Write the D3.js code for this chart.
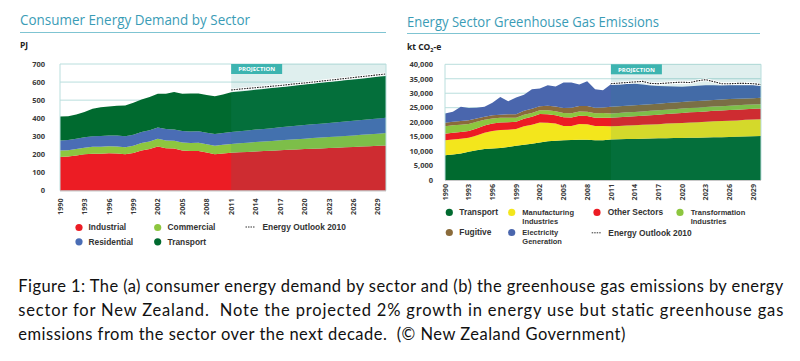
<!DOCTYPE html>
<html><head><meta charset="utf-8">
<script src="https://cdn.jsdelivr.net/npm/d3@7"></script>
<style>body{margin:0;background:#fff}svg{display:block}</style>
</head><body><svg id="c" width="800" height="361"></svg>
<script>
// ---------- shared ----------
const years = [1990,1991,1992,1993,1994,1995,1996,1997,1998,1999,2000,2001,2002,2003,2004,2005,2006,2007,2008,2009,2010,
               2011,2012,2013,2014,2015,2016,2017,2018,2019,2020,2021,2022,2023,2024,2025,2026,2027,2028,2029,2030];
const xTickYears = [1990,1993,1996,1999,2002,2005,2008,2011,2014,2017,2020,2023,2026,2029];
const projectionStart = 2011;
const outlookYears = [2011,2012,2013,2014,2015,2016,2017,2018,2019,2020,2021,2022,2023,2024,2025,2026,2027,2028,2029,2030];

// ---------- (a) Consumer Energy Demand by Sector (PJ) ----------
const leftKeys = ["Industrial","Commercial","Residential","Transport"];
const industrial  = [186,188,194,200,204,204,206,205,200,208,222,230,244,234,232,222,218,219,210,200,205,
                     209,211,213,216,218,220,223,225,227,229,231,233,235,237,239,241,243,245,247,249];
const commercial  = [35,35,36,37,38,38,39,39,40,40,41,41,42,43,43,44,45,45,46,47,48,
                     49,50,51,52,53,54,55,56,57,58,59,60,61,62,63,64,65,66,67,69];
const residential = [55,56,57,58,58,59,59,60,60,61,61,62,62,63,63,63,64,64,64,65,65,
                     66,67,68,69,70,71,72,73,74,75,76,77,78,79,80,81,82,83,84,85];
const transport   = [133,132,133,140,152,160,161,165,171,177,180,184,187,195,207,206,210,209,208,210,213,
                     219,220,220,220,221,222,222,222,223,224,225,226,226,227,228,228,229,230,231,231];
const leftOutlook = [556,561,565,569,573,577,581,586,591,595,600,605,610,615,620,625,630,635,640,645];
const leftYTicks = [0,100,200,300,400,500,600,700];
const leftColors = {Industrial:"#ec1c24",Commercial:"#8dc63f",Residential:"#4a6db5",Transport:"#006a2f"};

// ---------- (b) Energy Sector Greenhouse Gas Emissions (kt CO2-e) ----------
const rightKeys = ["Transport","Manufacturing Industries","Other Sectors","Transformation Industries","Fugitive","Electricity Generation"];
const ghgTransport      = [8600,8800,9200,9800,10300,10700,10900,11100,11400,11800,12200,12500,13000,13400,13600,13700,13800,13900,13900,13700,13700,
                           14000,14100,14150,14200,14300,14350,14400,14450,14500,14550,14600,14650,14700,14750,14800,14900,14950,15000,15100,15200];
const ghgManufacturing  = [5100,5200,5100,4800,5100,5600,6000,6200,6000,5800,6400,6600,6900,6400,5900,5000,4900,5500,5400,5000,5000,
                           4600,4600,4650,4700,4800,4850,4900,5050,5100,5150,5300,5350,5400,5550,5600,5600,5650,5800,5800,5800];
const ghgOther          = [2300,2300,2300,2300,2400,2500,2600,2600,2600,2500,2600,2800,2900,2900,2900,3000,2900,2800,2800,2800,2800,
                           2900,3000,3100,3100,3100,3200,3300,3300,3400,3500,3500,3500,3600,3600,3600,3700,3700,3700,3700,3700];
const ghgTransformation = [2600,2600,2500,2500,2300,2000,1800,1600,1500,1400,1400,1300,1300,1400,1400,1500,1500,1500,1500,1600,1700,
                           1500,1500,1500,1500,1500,1500,1500,1500,1500,1500,1500,1500,1500,1500,1500,1500,1500,1500,1500,1500];
const ghgFugitive       = [1200,1200,1300,1300,1200,1100,1100,1100,1200,1200,1300,1400,1400,1600,1600,1700,1900,1900,2000,1900,1900,
                           2300,2300,2300,2300,2300,2300,2300,2300,2300,2300,2300,2300,2300,2300,2300,2300,2300,2200,2200,2200];
const ghgElectricity    = [3200,3500,4900,4200,3700,3400,4300,6100,4500,5800,5600,6800,6100,7100,6900,8800,8700,7400,8500,6400,5900,
                           7800,7500,7500,7500,7000,6500,6100,5800,5500,5200,5200,5300,5300,5100,4900,4800,4700,4600,4500,4300];
const rightOutlook = [33300,33500,33700,33900,34100,33400,33300,33500,33700,33800,33700,34300,34700,34000,33300,33300,33400,33400,33300,33000];
const rightYTicks = [0,5000,10000,15000,20000,25000,30000,35000,40000];
const rightColors = {"Transport":"#006a2f","Manufacturing Industries":"#f3e61c","Other Sectors":"#ec1c24",
                     "Transformation Industries":"#8dc63f","Fugitive":"#8a6b3b","Electricity Generation":"#4a66ad"};

// ---------- drawing ----------
const svg = d3.select("#c");
const FONT = "'Open Sans', 'DejaVu Sans', sans-serif";
const LEGEND_FONT = "'Liberation Sans', Arial, sans-serif";
const gridColor = "#b9dedd";
const labelColor = "#3a3a3a";

function drawChart(o) {
  const g = svg.append("g");
  const x = d3.scaleLinear().domain([1990, 2030]).range([o.x0, o.x1]);
  const y = d3.scaleLinear().domain([0, o.yMax]).range([o.yBottom, o.yTop]);

  g.append("text").attr("x", o.titleX).attr("y", o.titleY).text(o.title)
    .attr("font-family", FONT).attr("font-size", 15).attr("fill", "#3a9cb6")
    .attr("textLength", o.titleLen).attr("lengthAdjust", "spacingAndGlyphs");
  g.append("line").attr("x1", o.titleX).attr("x2", o.ruleX1).attr("y1", o.ruleY).attr("y2", o.ruleY)
    .attr("stroke", "#7fc4d2").attr("stroke-width", 1.2);

  const u = g.append("text").attr("x", o.titleX).attr("y", o.unitY)
    .attr("font-family", FONT).attr("font-size", 8.5).attr("font-weight", 700).attr("fill", "#222");
  o.unit(u);

  g.append("g").selectAll("line").data(o.yTicks).join("line")
    .attr("x1", o.x0).attr("x2", o.x1).attr("y1", d => y(d)).attr("y2", d => y(d))
    .attr("stroke", gridColor).attr("stroke-width", 1);

  const series = d3.stack().keys(o.keys)(o.rows);
  const area = d3.area().x(d => x(d.data.year)).y0(d => y(d[0])).y1(d => y(d[1]));
  g.append("g").selectAll("path").data(series).join("path")
    .attr("d", area).attr("fill", d => o.colors[d.key]);

  g.append("rect").attr("x", x(projectionStart)).attr("y", o.yTop)
    .attr("width", x(2030) - x(projectionStart)).attr("height", o.yBottom - o.yTop)
    .attr("fill", "#1d8c88").attr("opacity", 0.14);

  const line = d3.line().x(d => x(d.year)).y(d => y(d.v));
  const od = outlookYears.map((yr, i) => ({year: yr, v: o.outlook[i]}));
  g.append("path").datum(od).attr("d", line).attr("fill", "none").attr("stroke", "#ffffff").attr("stroke-width", 2.8);
  g.append("path").datum(od).attr("d", line).attr("fill", "none").attr("stroke", "#222")
    .attr("stroke-width", 1.1).attr("stroke-dasharray", "1.6,1");

  g.append("line").attr("x1", o.x0).attr("x2", o.x0).attr("y1", o.yTop).attr("y2", o.yBottom).attr("stroke", gridColor);
  g.append("line").attr("x1", o.x1).attr("x2", o.x1).attr("y1", o.yTop).attr("y2", o.yBottom).attr("stroke", gridColor);
  g.append("line").attr("x1", o.x0).attr("x2", o.x1).attr("y1", o.yBottom + 0.5).attr("y2", o.yBottom + 0.5).attr("stroke", "#c8c8c8");

  g.append("rect").attr("x", x(projectionStart)).attr("y", o.yTop).attr("width", 51).attr("height", 10).attr("fill", "#3db4b0");
  g.append("text").attr("x", x(projectionStart) + 25.5).attr("y", o.yTop + 7.3).attr("text-anchor", "middle")
    .text("PROJECTION").attr("font-family", FONT).attr("font-size", 6).attr("font-weight", 700).attr("fill", "#fff");

  g.append("g").selectAll("text").data(o.yTicks).join("text")
    .attr("x", o.yLabelX).attr("y", d => y(d) + 2.8).attr("text-anchor", "end")
    .text(d => o.fmt(d)).attr("font-family", FONT).attr("font-size", 7.5).attr("font-weight", 700).attr("fill", labelColor);

  g.append("g").selectAll("text").data(xTickYears).join("text")
    .attr("transform", d => `translate(${x(d) + 2.6},${o.xLabelY}) rotate(-90)`)
    .attr("text-anchor", "end").text(d => d)
    .attr("font-family", FONT).attr("font-size", 7.2).attr("font-weight", 700).attr("fill", labelColor);

  const lg = g.append("g");
  o.legend.forEach(it => {
    if (it.dash) {
      lg.append("line").attr("x1", it.cx - 5).attr("x2", it.cx + 5).attr("y1", it.cy).attr("y2", it.cy)
        .attr("stroke", "#333").attr("stroke-width", 1).attr("stroke-dasharray", "1.5,1");
    } else {
      lg.append("circle").attr("cx", it.cx).attr("cy", it.cy).attr("r", 3.6).attr("fill", it.color);
    }
    it.lines.forEach((ln, i) => {
      lg.append("text").attr("x", it.tx).attr("y", it.cy + 2.8 + i * 8.5)
        .attr("font-family", LEGEND_FONT).attr("font-size", it.lines.length > 1 ? 7.5 : 8.4)
        .attr("font-weight", 700).attr("fill", "#333").text(ln);
    });
  });
}

const leftRows = years.map((yr, i) => ({year: yr, Industrial: industrial[i], Commercial: commercial[i],
  Residential: residential[i], Transport: transport[i]}));
drawChart({
  title: "Consumer Energy Demand by Sector", titleX: 20, titleY: 25, titleLen: 230, ruleX1: 386, ruleY: 32.5,
  unitY: 48, unit: t => t.text("PJ"),
  x0: 60, x1: 386, yTop: 64, yBottom: 190.5, yMax: 700, yTicks: leftYTicks, yLabelX: 45,
  fmt: d3.format("d"), xLabelY: 198.5,
  keys: leftKeys, rows: leftRows, colors: leftColors, outlook: leftOutlook,
  legend: [
    {cx: 79, cy: 227.5, tx: 88.5, color: leftColors.Industrial, lines: ["Industrial"]},
    {cx: 157.7, cy: 227.5, tx: 167.5, color: leftColors.Commercial, lines: ["Commercial"]},
    {cx: 250.5, cy: 227, tx: 262.5, dash: true, lines: ["Energy Outlook 2010"]},
    {cx: 79, cy: 241.8, tx: 88.5, color: leftColors.Residential, lines: ["Residential"]},
    {cx: 157.7, cy: 241.8, tx: 167.5, color: leftColors.Transport, lines: ["Transport"]}
  ]
});

const rightRows = years.map((yr, i) => ({year: yr, "Transport": ghgTransport[i], "Manufacturing Industries": ghgManufacturing[i],
  "Other Sectors": ghgOther[i], "Transformation Industries": ghgTransformation[i], "Fugitive": ghgFugitive[i],
  "Electricity Generation": ghgElectricity[i]}));
drawChart({
  title: "Energy Sector Greenhouse Gas Emissions", titleX: 407, titleY: 26.8, titleLen: 252, ruleX1: 760, ruleY: 33.5,
  unitY: 50, unit: t => { t.append("tspan").text("kt CO"); t.append("tspan").attr("font-size", 5.5).attr("dy", 2).text("2");
                          t.append("tspan").attr("dy", -2).text("-e"); },
  x0: 445, x1: 761, yTop: 64.3, yBottom: 180, yMax: 40000, yTicks: rightYTicks, yLabelX: 433,
  fmt: d3.format(","), xLabelY: 184,
  keys: rightKeys, rows: rightRows, colors: rightColors, outlook: rightOutlook,
  legend: [
    {cx: 449.3, cy: 212.4, tx: 459.3, color: rightColors["Transport"], lines: ["Transport"]},
    {cx: 511.7, cy: 212.4, tx: 522.3, color: rightColors["Manufacturing Industries"], lines: ["Manufacturing", "Industries"]},
    {cx: 597, cy: 212.4, tx: 607.7, color: rightColors["Other Sectors"], lines: ["Other Sectors"]},
    {cx: 680, cy: 212.4, tx: 690.7, color: rightColors["Transformation Industries"], lines: ["Transformation", "Industries"]},
    {cx: 449.3, cy: 232.5, tx: 459.3, color: rightColors["Fugitive"], lines: ["Fugitive"]},
    {cx: 511.7, cy: 232.5, tx: 522.3, color: rightColors["Electricity Generation"], lines: ["Electricity", "Generation"]},
    {cx: 596.7, cy: 232.8, tx: 608.3, dash: true, lines: ["Energy Outlook 2010"]}
  ]
});

// ---------- caption ----------
const captionLines = [
  "Figure 1: The (a) consumer energy demand by sector and (b) the greenhouse gas emissions by energy",
  "sector for New Zealand.  Note the projected 2% growth in energy use but static greenhouse gas",
  "emissions from the sector over the next decade.  (© New Zealand Government)"
];
const captionWidths = [765, 765, 607];
svg.append("g").selectAll("text").data(captionLines).join("text")
  .attr("x", 18.3).attr("y", (d, i) => 292 + i * 24)
  .attr("font-family", "Lato, 'Open Sans', sans-serif").attr("font-size", 16.5).attr("fill", "#111")
  .attr("xml:space", "preserve").style("white-space", "pre")
  .attr("textLength", (d, i) => captionWidths[i]).attr("lengthAdjust", "spacing")
  .text(d => d);
</script></body></html>
